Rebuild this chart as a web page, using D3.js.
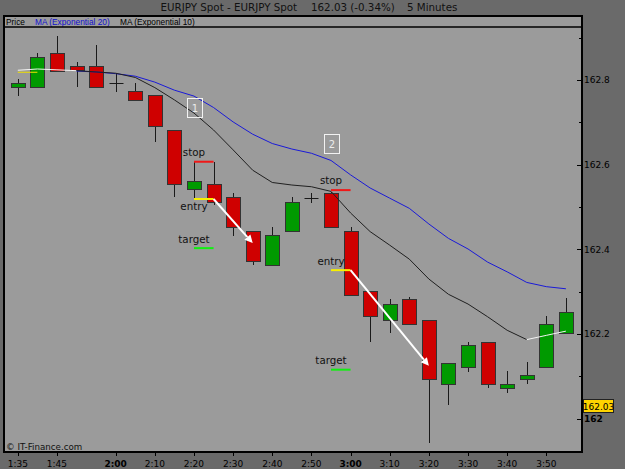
<!DOCTYPE html>
<html>
<head>
<meta charset="utf-8">
<script src="https://cdn.jsdelivr.net/npm/d3@7/dist/d3.min.js"></script>
<style>
  html, body { margin: 0; padding: 0; background: #6a6a6a; overflow: hidden; }
  svg { display: block; }
</style>
</head>
<body>
<svg id="chart" width="625" height="469"></svg>
<script>
// 5 minute EURJPY candles
const times = ["1:35","1:40","1:45","1:50","1:55","2:00","2:05","2:10","2:15","2:20","2:25","2:30","2:35","2:40","2:45",
  "2:50","2:55","3:00","3:05","3:10","3:15","3:20","3:25","3:30","3:35","3:40","3:45","3:50","3:55"];
const opens  = [162.783,162.783,162.863,162.833,162.833,162.792,162.773,162.764,162.682,162.543,162.554,162.523,162.443,162.363,162.443,
  162.522,162.533,162.443,162.302,162.233,162.284,162.233,162.082,162.123,162.182,162.072,162.093,162.123,162.202];
const highs  = [162.802,162.863,162.904,162.842,162.883,162.816,162.792,162.764,162.682,162.607,162.607,162.533,162.443,162.454,162.524,
  162.534,162.535,162.454,162.302,162.284,162.288,162.233,162.131,162.181,162.182,162.114,162.133,162.243,162.285];
const lows   = [162.763,162.783,162.822,162.783,162.783,162.772,162.752,162.653,162.523,162.521,162.505,162.432,162.363,162.363,162.443,
  162.510,162.454,162.292,162.181,162.202,162.223,161.942,162.033,162.111,162.072,162.062,162.082,162.123,162.202];
const closes = [162.792,162.854,162.822,162.824,162.783,162.792,162.752,162.692,162.554,162.562,162.513,162.454,162.372,162.433,162.512,
  162.522,162.454,162.292,162.243,162.272,162.223,162.093,162.131,162.174,162.082,162.082,162.104,162.224,162.252];

// moving averages, null where not drawn
const ema20 = [null,null,null,162.821,162.819,162.815,162.809,162.795,162.776,162.762,162.735,162.701,162.672,162.650,162.637,
  162.627,162.610,162.576,162.545,162.521,162.497,162.460,162.426,162.401,162.370,162.347,162.322,162.312,162.307];
const ema10 = [null,null,null,162.822,162.819,162.816,162.806,162.782,162.753,162.722,162.682,162.635,162.587,162.558,162.552,
  162.548,162.537,162.486,162.442,162.410,162.377,162.330,162.294,162.271,162.241,162.209,162.187,null,null];
const seedTimes = ["1:35","1:40","1:45","1:50"];
const seedValues = [162.823,162.826,162.824,162.822];
const tailTimes = ["3:45","3:50","3:55"];
const tailValues = [162.187,162.197,162.207];

// trade annotations
const tradeLabels = ["1","2"];
const tradeBoxTimes = ["2:20","2:55"];
const tradeBoxPrices = [162.734,162.650];
const tradeStarts = ["2:20","2:55"];
const tradeEnds = ["2:25","3:00"];
const stopPrices = [162.607,162.540];
const entryPrices = [162.519,162.351];
const targetPrices = [162.403,162.116];
const arrowTimes = ["2:35","3:20"];
const arrowPrices = [162.415,162.125];

const xTickLabels = ["1:35","1:45","2:00","2:10","2:20","2:30","2:40","2:50","3:00","3:10","3:20","3:30","3:40","3:50"];
const yMajorTicks = [162,162.2,162.4,162.6,162.8];
const yMinorTicks = [162.1,162.3,162.5,162.7,162.9];
const lastPrice = 162.03;

const toMin = (s) => { const [h, m] = s.split(":").map(Number); return h * 60 + m; };
const fmtPrice = (v) => (Math.round(v * 10) / 10).toString();

const svg = d3.select("#chart");
const frame = { left: 4, right: 582, top: 16, legendBottom: 27, bottom: 452 };

const x = d3.scaleLinear().domain([toMin("1:35"), toMin("3:55")]).range([17.8, 565.9]);
const y = d3.scaleLinear().domain([162, 162.8]).range([418.8, 80]);
const crisp = (v) => Math.round(v) + 0.5;

// backgrounds
svg.append("rect").attr("width", 625).attr("height", 469).attr("fill", "#6a6a6a");
svg.append("rect")
  .attr("x", frame.left).attr("y", frame.top)
  .attr("width", frame.right - frame.left).attr("height", frame.bottom - frame.top)
  .attr("fill", "#9b9b9b");

// title
const titleG = svg.append("g").attr("font-family", "DejaVu Sans, sans-serif").attr("font-size", 10.3).attr("fill", "#111");
titleG.append("text").attr("x", 160.5).attr("y", 11).text("EURJPY Spot - EURJPY Spot");
titleG.append("text").attr("x", 311).attr("y", 11).text("162.03 (-0.34%)");
titleG.append("text").attr("x", 407).attr("y", 11).text("5 Minutes");

// legend strip
const legendG = svg.append("g").attr("font-family", "Liberation Sans, Arial, sans-serif").attr("font-size", 8.3);
legendG.append("text").attr("x", 6).attr("y", 25).attr("fill", "#000").text("Price");
legendG.append("text").attr("x", 35).attr("y", 25).attr("fill", "#1010d0").text("MA (Exponential 20)");
legendG.append("text").attr("x", 120).attr("y", 25).attr("fill", "#000").text("MA (Exponential 10)");

// candles
const candles = times.map((t, i) => ({ m: toMin(t), o: opens[i], h: highs[i], l: lows[i], c: closes[i] }));
const candleG = svg.append("g");
candleG.selectAll("line.wick").data(candles).join("line")
  .attr("class", "wick")
  .attr("x1", (d) => crisp(x(d.m))).attr("x2", (d) => crisp(x(d.m)))
  .attr("y1", (d) => Math.round(y(d.h))).attr("y2", (d) => Math.round(y(d.l)))
  .attr("stroke", "#1a1a1a").attr("stroke-width", 1);

const bodies = candles.filter((d) => d.o !== d.c);
candleG.selectAll("rect.body").data(bodies).join("rect")
  .attr("class", "body")
  .attr("x", (d) => crisp(x(d.m)) - 7)
  .attr("y", (d) => crisp(y(Math.max(d.o, d.c))))
  .attr("width", 14)
  .attr("height", (d) => Math.max(1, Math.round(y(Math.min(d.o, d.c))) - Math.round(y(Math.max(d.o, d.c)))))
  .attr("fill", (d) => (d.c > d.o ? "#009a00" : "#cf0000"))
  .attr("stroke", "#333").attr("stroke-width", 1);

const dojis = candles.filter((d) => d.o === d.c);
candleG.selectAll("line.doji").data(dojis).join("line")
  .attr("class", "doji")
  .attr("x1", (d) => crisp(x(d.m)) - 7).attr("x2", (d) => crisp(x(d.m)) + 7)
  .attr("y1", (d) => crisp(y(d.o))).attr("y2", (d) => crisp(y(d.o)))
  .attr("stroke", "#1a1a1a").attr("stroke-width", 1);

// moving averages
const line = d3.line().defined((d) => d.v !== null).x((d) => x(d.m)).y((d) => y(d.v));
svg.append("path")
  .datum(seedTimes.map((t, i) => ({ m: toMin(t), v: seedValues[i] })))
  .attr("d", line).attr("fill", "none").attr("stroke", "#f4f4f4").attr("stroke-width", 1);
svg.append("line")
  .attr("x1", x(toMin("1:35"))).attr("x2", x(toMin("1:40")))
  .attr("y1", y(seedValues[0]) + 2).attr("y2", y(seedValues[0]) + 2)
  .attr("stroke", "#f0e000").attr("stroke-width", 1);
svg.append("path")
  .datum(times.map((t, i) => ({ m: toMin(t), v: ema20[i] })))
  .attr("d", line).attr("fill", "none").attr("stroke", "#1a1ad8").attr("stroke-width", 1);
svg.append("path")
  .datum(times.map((t, i) => ({ m: toMin(t), v: ema10[i] })))
  .attr("d", line).attr("fill", "none").attr("stroke", "#202020").attr("stroke-width", 1);
svg.append("path")
  .datum(tailTimes.map((t, i) => ({ m: toMin(t), v: tailValues[i] })))
  .attr("d", line).attr("fill", "none").attr("stroke", "#f4f4f4").attr("stroke-width", 1);

// trade annotations
const annG = svg.append("g").attr("font-family", "DejaVu Sans, sans-serif").attr("font-size", 10.3).attr("fill", "#111");
tradeLabels.forEach((label, i) => {
  const x0 = x(toMin(tradeStarts[i]));
  const x1 = x(toMin(tradeEnds[i]));
  const bx = x(toMin(tradeBoxTimes[i]));
  const by = y(tradeBoxPrices[i]);
  annG.append("rect").attr("x", Math.round(bx) - 7 + 0.5).attr("y", Math.round(by) - 9.5)
    .attr("width", 15).attr("height", 19).attr("fill", "none")
    .attr("stroke", "#f2f2f2").attr("stroke-width", 1);
  annG.append("text").attr("x", Math.round(bx) + 1).attr("y", by + 4).attr("text-anchor", "middle")
    .attr("fill", "#ececec").attr("font-size", 10).text(label);

  const levels = [
    { p: stopPrices[i], color: "#f01818", text: "stop", dy: -6 },
    { p: entryPrices[i], color: "#f8f000", text: "entry", dy: i === 0 ? 10.5 : -5 },
    { p: targetPrices[i], color: "#10f010", text: "target", dy: -5.5 },
  ];
  levels.forEach((lv) => {
    const ly = y(lv.p);
    annG.append("line").attr("x1", x0).attr("x2", x1).attr("y1", ly).attr("y2", ly)
      .attr("stroke", lv.color).attr("stroke-width", 2);
    annG.append("text").attr("x", x0).attr("y", ly + lv.dy).attr("text-anchor", "middle").text(lv.text);
  });

  const ax0 = x1, ay0 = y(entryPrices[i]);
  const ax1 = x(toMin(arrowTimes[i])), ay1 = y(arrowPrices[i]);
  const ang = Math.atan2(ay1 - ay0, ax1 - ax0);
  const len = 8, half = 4;
  const bx0 = ax1 - len * Math.cos(ang), by0 = ay1 - len * Math.sin(ang);
  annG.append("line").attr("x1", ax0).attr("y1", ay0).attr("x2", bx0).attr("y2", by0)
    .attr("stroke", "#fff").attr("stroke-width", 2);
  annG.append("path")
    .attr("d", `M${ax1},${ay1}L${bx0 - half * Math.sin(ang)},${by0 + half * Math.cos(ang)}L${bx0 + half * Math.sin(ang)},${by0 - half * Math.cos(ang)}Z`)
    .attr("fill", "#fff");
});

// frame
svg.append("rect")
  .attr("x", frame.left).attr("y", frame.top)
  .attr("width", frame.right - frame.left).attr("height", frame.bottom - frame.top)
  .attr("fill", "none").attr("stroke", "#000").attr("stroke-width", 2);
svg.append("line").attr("x1", frame.left).attr("x2", frame.right)
  .attr("y1", frame.legendBottom).attr("y2", frame.legendBottom)
  .attr("stroke", "#000").attr("stroke-width", 1.5);

// y axis on the right
const yAxisG = svg.append("g").attr("font-family", "DejaVu Sans, sans-serif").attr("font-size", 9).attr("fill", "#000");
yAxisG.selectAll("line.major").data(yMajorTicks).join("line")
  .attr("x1", frame.right - 5).attr("x2", frame.right + 1)
  .attr("y1", (d) => crisp(y(d))).attr("y2", (d) => crisp(y(d)))
  .attr("stroke", "#000");
yAxisG.selectAll("line.minor").data(yMinorTicks).join("line")
  .attr("x1", frame.right - 3).attr("x2", frame.right + 1)
  .attr("y1", (d) => crisp(y(d))).attr("y2", (d) => crisp(y(d)))
  .attr("stroke", "#000");
yAxisG.selectAll("text").data(yMajorTicks).join("text")
  .attr("x", 584).attr("y", (d) => y(d) + 3.3)
  .attr("font-weight", (d) => (Number.isInteger(d) ? "bold" : "normal"))
  .text(fmtPrice);

// last price tag
const lpY = y(lastPrice);
svg.append("rect").attr("x", 583.5).attr("y", Math.round(lpY) - 6.5).attr("width", 30).attr("height", 13)
  .attr("fill", "#ffd400").attr("stroke", "#222").attr("stroke-width", 1);
svg.append("text").attr("x", 598.5).attr("y", lpY + 3.5).attr("text-anchor", "middle")
  .attr("font-family", "DejaVu Sans, sans-serif").attr("font-size", 9).attr("fill", "#000")
  .text(lastPrice.toFixed(2));

// x axis below
const xAxisG = svg.append("g").attr("font-family", "DejaVu Sans, sans-serif").attr("font-size", 9).attr("fill", "#000");
xAxisG.selectAll("line").data(xTickLabels).join("line")
  .attr("x1", (d) => crisp(x(toMin(d)))).attr("x2", (d) => crisp(x(toMin(d))))
  .attr("y1", frame.bottom).attr("y2", frame.bottom + 4)
  .attr("stroke", "#000");
xAxisG.selectAll("text").data(xTickLabels).join("text")
  .attr("x", (d) => x(toMin(d))).attr("y", 466.5).attr("text-anchor", "middle")
  .attr("font-weight", (d) => (d.endsWith(":00") ? "bold" : "normal"))
  .text((d) => d);

// credit
svg.append("text").attr("x", 6).attr("y", 450).attr("font-family", "DejaVu Sans, sans-serif")
  .attr("font-size", 8.7).attr("fill", "#111").text("© IT-Finance.com");
</script>
</body>
</html>
